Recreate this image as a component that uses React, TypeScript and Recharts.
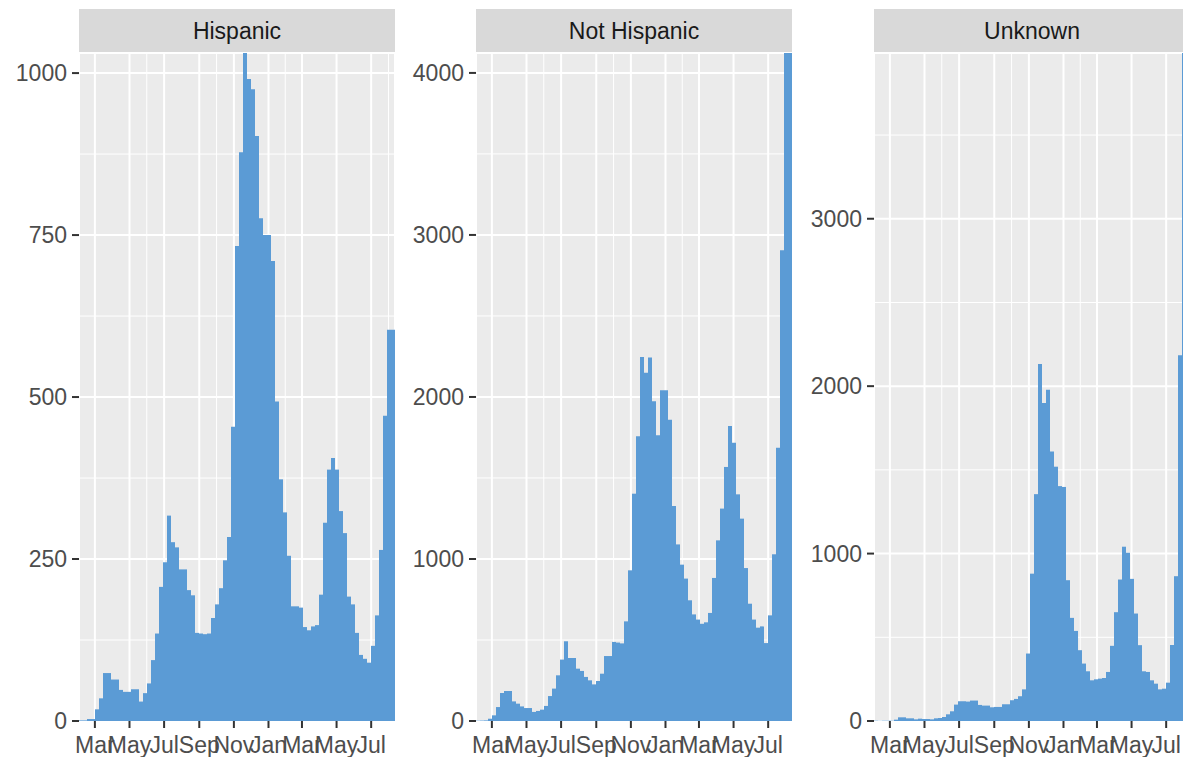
import React from 'react';
import { BarChart, Bar, XAxis, YAxis, CartesianGrid } from 'recharts';

// weekly case counts, one value per week starting 2020-02-02
const firstWeek = '2020-02-02';

const hispanic = [
  1, 1, 3, 3, 18, 35, 74, 74, 64, 64,
  48, 45, 45, 49, 49, 30, 43, 58, 94, 135,
  207, 245, 317, 276, 268, 234, 234, 202, 194, 136,
  135, 134, 135, 159, 180, 205, 248, 284, 454, 733,
  878, 1031, 991, 975, 903, 776, 750, 750, 710, 493,
  373, 322, 255, 177, 177, 175, 145, 140, 146, 148,
  195, 306, 388, 406, 388, 324, 290, 192, 180, 136,
  102, 96, 90, 116, 163, 264, 471, 604, 604,
];

const notHispanic = [
  2, 3, 4, 14, 35, 86, 173, 185, 185, 121,
  107, 90, 80, 80, 56, 62, 70, 93, 154, 200,
  282, 379, 492, 389, 389, 323, 309, 272, 251, 226,
  247, 292, 401, 401, 488, 484, 479, 615, 930, 1403,
  1757, 2247, 2150, 2243, 1973, 1763, 2041, 2041, 1860, 1327,
  1090, 965, 879, 745, 658, 626, 600, 609, 667, 883,
  1115, 1311, 1568, 1821, 1718, 1399, 1249, 944, 724, 626,
  576, 584, 481, 652, 1029, 1687, 2905, 4123, 4123,
];

const unknown = [
  2, 1, 2, 2, 2, 8, 22, 22, 16, 16,
  10, 14, 12, 12, 10, 16, 18, 24, 40, 58,
  98, 118, 118, 116, 122, 122, 96, 92, 92, 82,
  84, 84, 100, 100, 124, 132, 148, 189, 403, 880,
  1355, 2133, 1900, 1978, 1609, 1519, 1403, 1398, 841, 616,
  538, 423, 343, 297, 243, 249, 253, 257, 293, 449,
  650, 845, 1041, 1005, 849, 642, 453, 297, 293, 243,
  223, 189, 193, 229, 454, 865, 2185, 3990, 3990,
];

const monthTicks = [
  '2020-03-01', '2020-05-01', '2020-07-01', '2020-09-01', '2020-11-01',
  '2021-01-01', '2021-03-01', '2021-05-01', '2021-07-01',
];
const monthLabels = ['Mar', 'May', 'Jul', 'Sep', 'Nov', 'Jan', 'Mar', 'May', 'Jul'];

const hispanicTicks = [0, 250, 500, 750, 1000];
const hispanicMinor = [125, 375, 625, 875];
const notHispanicTicks = [0, 1000, 2000, 3000, 4000];
const notHispanicMinor = [500, 1500, 2500, 3500];
const unknownTicks = [0, 1000, 2000, 3000];
const unknownMinor = [500, 1500, 2500, 3500];

const xStart = '2020-02-02';
const xEnd = '2021-08-12';

const DAY = 86400000;
const toDay = (s: string) => Date.parse(s + 'T00:00:00Z') / DAY;

// minor gridlines sit halfway between the month breaks (plus one after the last)
const majorDays = monthTicks.map(toDay);
const minorDays = majorDays.slice(1).map((d, i) => (d + majorDays[i]) / 2);
const lastGap = majorDays[majorDays.length - 1] - majorDays[majorDays.length - 2];
minorDays.push(majorDays[majorDays.length - 1] + lastGap / 2);

const FONT = '"Liberation Sans", Arial, Helvetica, sans-serif';
const Y_W = 79;
const PLOT_W = 316;
const H = 757;

interface PanelProps {
  left: number;
  title: string;
  values: number[];
  ticks: number[];
  minor: number[];
}

const Panel: React.FC<PanelProps> = ({ left, title, values, ticks, minor }) => {
  const start = toDay(firstWeek);
  const data = values.map((n, i) => ({ week: i, day: start + 7 * i + 3.5, n }));
  const top = Math.max(...values);
  const domainX = [toDay(xStart), toDay(xEnd)];

  return (
    <>
      <div
        style={{
          position: 'absolute',
          left: left + Y_W,
          top: 9,
          width: PLOT_W,
          height: 44,
          lineHeight: '45px',
          background: '#D9D9D9',
          color: '#1A1A1A',
          fontSize: 23,
          textAlign: 'center',
        }}
      >
        {title}
      </div>
      <div style={{ position: 'absolute', left, top: 0 }}>
        <BarChart
          width={Y_W + PLOT_W}
          height={H}
          data={data}
          margin={{ top: 53, right: 0, bottom: 0, left: 0 }}
          barCategoryGap={0}
          barGap={0}
        >
          <CartesianGrid xAxisId="minorX" yAxisId="minorY" fill="#EBEBEB" stroke="#FFFFFF" strokeWidth={1} />
          <CartesianGrid xAxisId="date" yAxisId="count" stroke="#FFFFFF" strokeWidth={2} />
          <XAxis xAxisId="week" dataKey="week" hide />
          <XAxis
            xAxisId="date"
            dataKey="day"
            type="number"
            domain={domainX}
            allowDataOverflow
            ticks={majorDays}
            interval={0}
            tickFormatter={(v: number) => monthLabels[majorDays.indexOf(v)] ?? ''}
            height={36}
            axisLine={false}
            tickLine={{ stroke: '#333333', strokeWidth: 2 }}
            tickSize={7}
            tickMargin={9}
            tick={{ fill: '#4D4D4D', fontSize: 23, fontFamily: FONT }}
          />
          <XAxis
            xAxisId="minorX"
            dataKey="day"
            type="number"
            domain={domainX}
            allowDataOverflow
            ticks={minorDays}
            hide
          />
          <YAxis
            yAxisId="count"
            type="number"
            width={Y_W}
            domain={[0, top]}
            allowDataOverflow
            ticks={ticks}
            interval={0}
            axisLine={false}
            tickLine={{ stroke: '#333333', strokeWidth: 2 }}
            tickSize={7}
            tickMargin={5}
            tick={{ fill: '#4D4D4D', fontSize: 23, fontFamily: FONT }}
          />
          <YAxis yAxisId="minorY" type="number" domain={[0, top]} allowDataOverflow ticks={minor} hide />
          <Bar xAxisId="week" yAxisId="count" dataKey="n" fill="#5B9BD5" isAnimationActive={false} />
        </BarChart>
      </div>
    </>
  );
};

export default function App() {
  return (
    <div
      style={{
        position: 'absolute',
        left: 0,
        top: 0,
        width: 1183,
        height: 757,
        overflow: 'hidden',
        background: '#FFFFFF',
        fontFamily: FONT,
      }}
    >
      <Panel left={0} title="Hispanic" values={hispanic} ticks={hispanicTicks} minor={hispanicMinor} />
      <Panel left={397} title="Not Hispanic" values={notHispanic} ticks={notHispanicTicks} minor={notHispanicMinor} />
      <Panel left={795} title="Unknown" values={unknown} ticks={unknownTicks} minor={unknownMinor} />
    </div>
  );
}
